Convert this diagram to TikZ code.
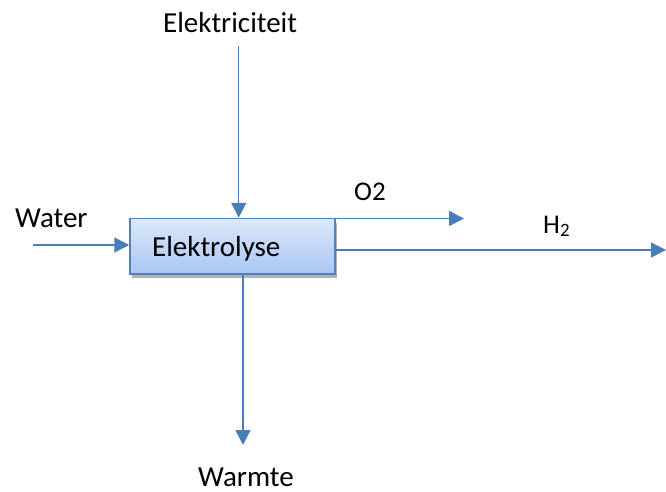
\documentclass[tikz,border=0pt]{standalone}
\usepackage{fontspec}
\setmainfont{Carlito}
\usetikzlibrary{arrows.meta,shadows}
\definecolor{lineblue}{HTML}{4A7EBB}
\definecolor{boxtop}{HTML}{DDE8FB}
\definecolor{boxbot}{HTML}{A8C6F2}
\definecolor{boxborder}{HTML}{4F81BD}
\tikzset{
  flow/.style={draw=lineblue, line width=1.5pt, -{Triangle[length=15pt,width=15pt]}},
  lbl/.style={font=\fontsize{29}{34}\selectfont, text=black, inner sep=0pt, anchor=base west},
  slbl/.style={lbl, font=\fontsize{27}{32}\selectfont},
  procbox/.style={draw=boxborder, line width=1.5pt, top color=boxtop, bottom color=boxbot,
    minimum width=205pt, minimum height=55.5pt, inner sep=0pt,
    drop shadow={shadow xshift=2pt, shadow yshift=-4pt, fill=black, opacity=0.3}}
}
\begin{document}
\begin{tikzpicture}[x=1pt,y=-1pt]
\useasboundingbox (0,0) rectangle (666,492);
\node[procbox] (e) at (232.5,246.25) {};
\node[lbl] (etxt) at (152,256) {Elektrolyse};
\node[lbl] (el) at (163,33) {Elektriciteit};
\node[lbl] (wa) at (15,227) {Water};
\node[slbl] (o2) at (354,200.5) {O2};
\node[slbl] (h2) at (543,233) {H\textsubscript{2}};
\node[lbl] (wm) at (198,486) {Warmte};
\coordinate (elS) at (238.7,46.5);
\coordinate (waS) at (33,245);
\coordinate (o2E) at (464,218.5);
\coordinate (h2E) at (666,250);
\coordinate (wmS) at (243,274);
\coordinate (wmE) at (243,445);
\draw[flow] (elS) -- (e.north -| elS);
\draw[flow] (waS) -- (e.west |- waS);
\draw[flow] (e.north east |- o2E) -- (o2E);
\draw[flow] (e.east |- h2E) -- (h2E);
\draw[flow] (wmS) -- (wmE);
\end{tikzpicture}
\end{document}
